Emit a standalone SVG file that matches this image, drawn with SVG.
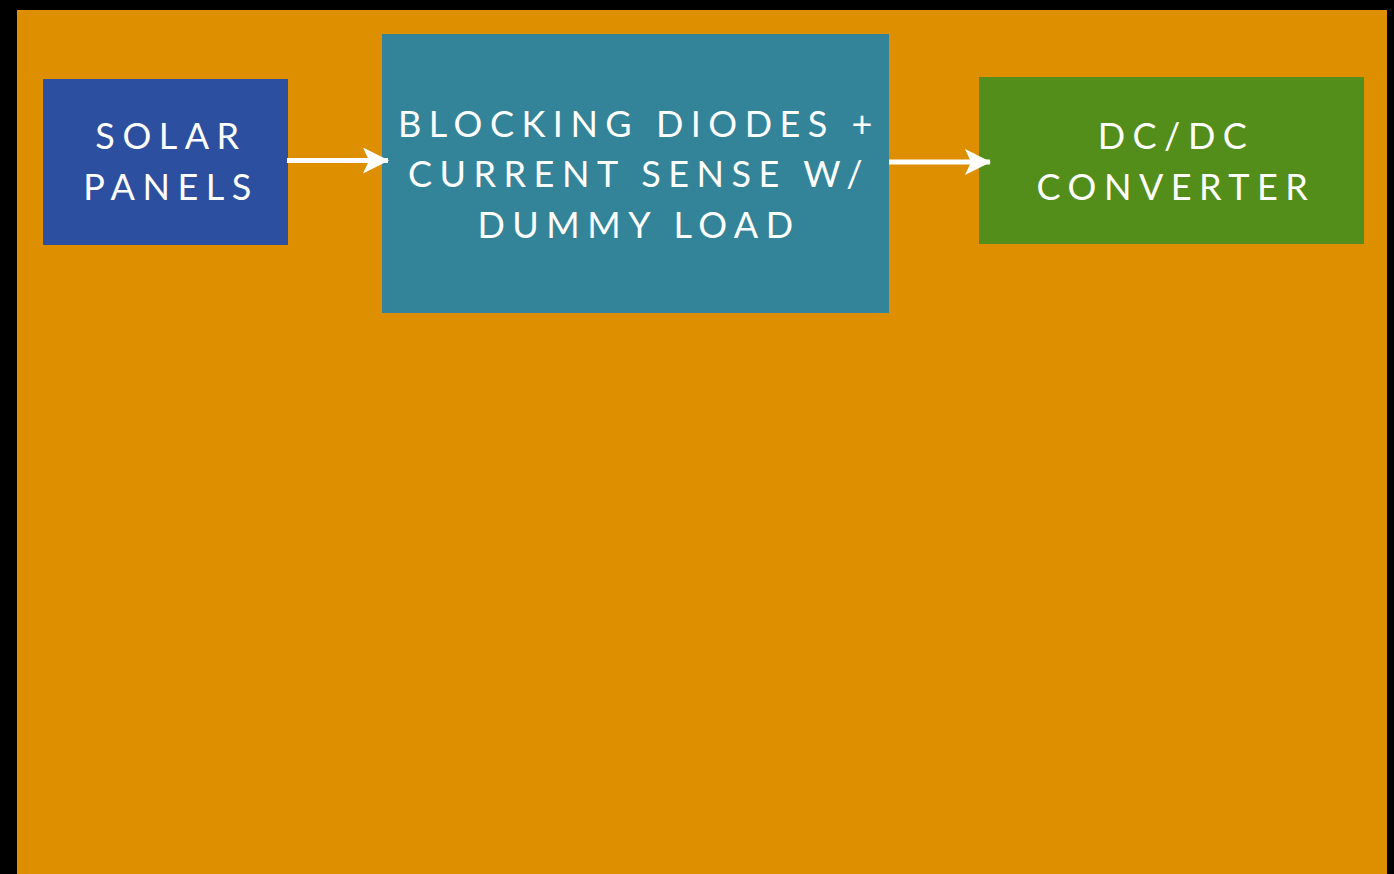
<svg xmlns="http://www.w3.org/2000/svg" width="1394" height="874" viewBox="0 0 1394 874">
  <style>
    .lbl { font-family: Lato, "Open Sans", "Liberation Sans", sans-serif; font-size: 36px; fill: #ffffff; letter-spacing: 7.5px; text-anchor: middle; }
    .wire { stroke: #ffffff; stroke-width: 5; fill: none; }
  </style>
  <defs>
    <marker id="head" viewBox="0 0 26 26" refX="25" refY="13" markerWidth="26" markerHeight="26" markerUnits="userSpaceOnUse" orient="auto">
      <path d="M0,0 L26,13 L0,26 L6,13 Z" fill="#ffffff"/>
    </marker>
  </defs>
  <rect x="0" y="0" width="1394" height="874" fill="#000000"/>
  <rect x="17" y="10" width="1370" height="864" fill="#DE8F00"/>

  <g id="solar-panels">
    <rect x="43" y="79" width="245" height="166" fill="#2C4FA0"/>
    <text class="lbl" x="171" y="149">SOLAR</text>
    <text class="lbl" x="171" y="200">PANELS</text>
  </g>

  <g id="blocking-diodes">
    <rect x="382" y="34" width="507" height="279" fill="#338499"/>
    <text class="lbl" x="639" y="137">BLOCKING DIODES +</text>
    <text class="lbl" x="639" y="187">CURRENT SENSE W/</text>
    <text class="lbl" x="639" y="238">DUMMY LOAD</text>
  </g>

  <g id="dcdc-converter">
    <rect x="979" y="77" width="385" height="167" fill="#528E19"/>
    <text class="lbl" x="1176" y="149">DC/DC</text>
    <text class="lbl" x="1176" y="200">CONVERTER</text>
  </g>

  <g id="connectors">
    <line class="wire" x1="287" y1="160.5" x2="388" y2="160.5" marker-end="url(#head)"/>
    <line class="wire" x1="889" y1="162" x2="990" y2="162" marker-end="url(#head)"/>
  </g>
</svg>
